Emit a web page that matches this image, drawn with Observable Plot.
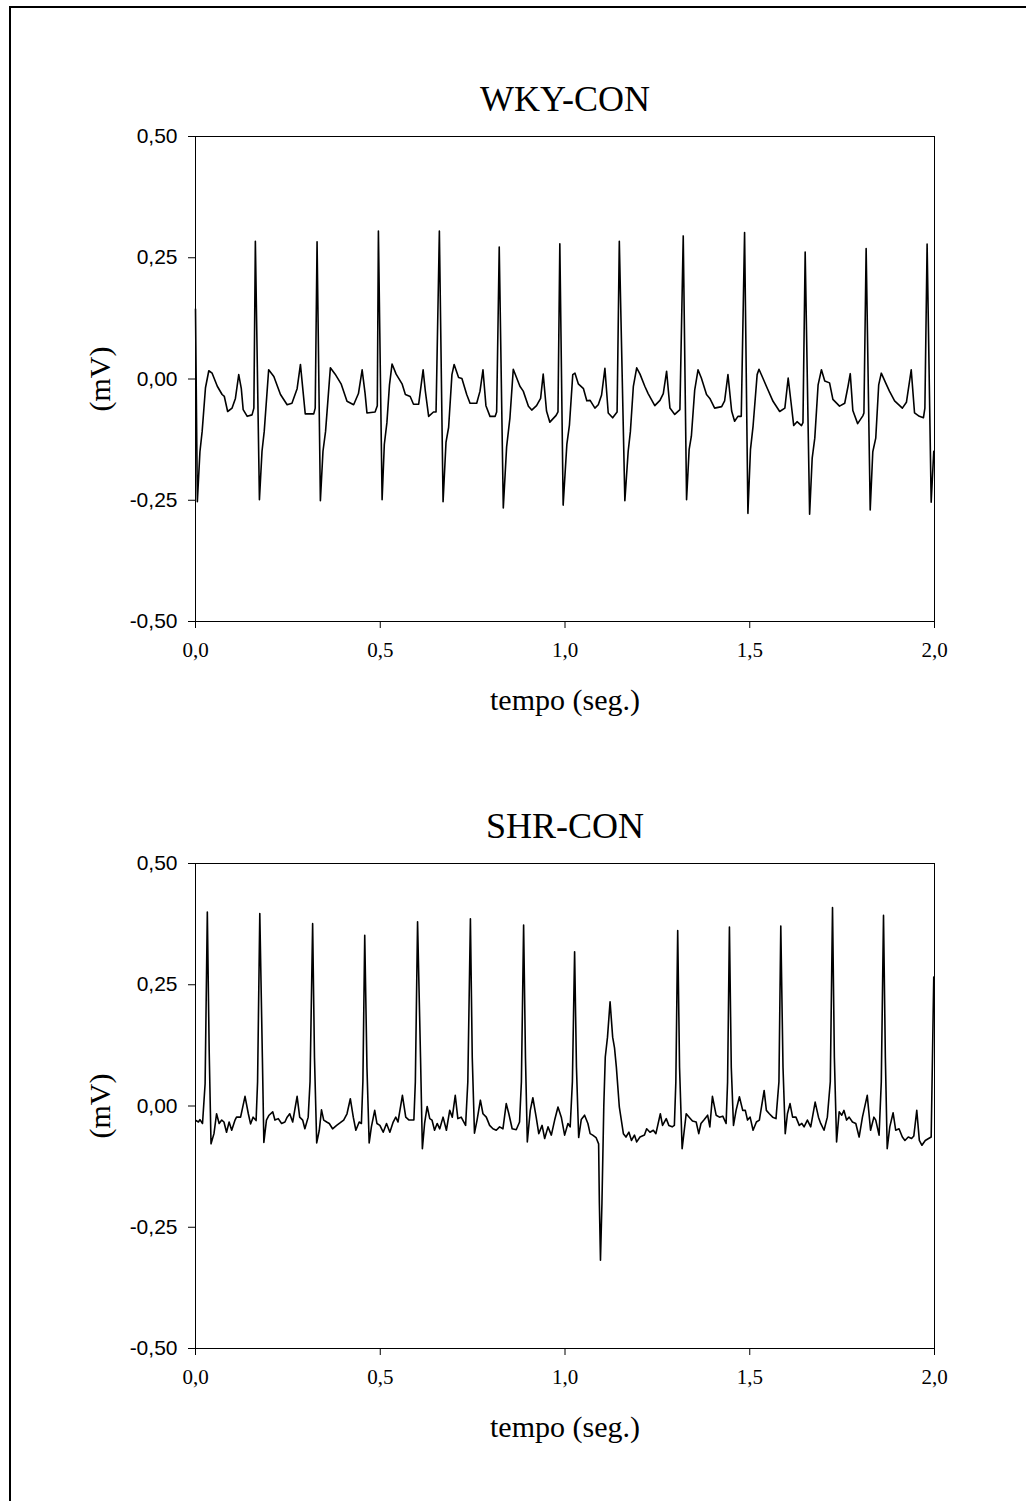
<!DOCTYPE html>
<html><head><meta charset="utf-8">
<script src="https://cdn.jsdelivr.net/npm/d3@7"></script>
<script src="https://cdn.jsdelivr.net/npm/@observablehq/plot@0.6"></script>
<style>
html,body{margin:0;padding:0;background:#fff;}
body{width:1026px;height:1501px;position:relative;overflow:hidden;}
#border{position:absolute;left:9px;top:6px;width:1040px;height:1520px;border:2px solid #000;box-sizing:border-box;}
.panel{position:absolute;left:0;}
</style></head><body>
<div id="border"></div>
<div id="p1" class="panel" style="top:0px"></div>
<div id="p2" class="panel" style="top:727px"></div>
<script>
const yTicks = [-0.5, -0.25, 0, 0.25, 0.5];
const xTicks = [0, 0.5, 1, 1.5, 2];
const titles = ["WKY-CON", "SHR-CON"];
const xLabel = "tempo (seg.)";
const yLabel = "(mV)";

// [tempo (s), mV]
const wkyTrace = [
[0.000,0.144],[0.005,-0.253],[0.012,-0.150],[0.018,-0.108],[0.027,-0.018],[0.036,0.017],[0.045,0.012],[0.059,-0.015],[0.072,-0.032],[0.078,-0.036],[0.087,-0.067],[0.099,-0.060],[0.108,-0.040],[0.117,0.009],[0.124,-0.020],[0.129,-0.063],[0.140,-0.077],[0.153,-0.074],[0.158,-0.060],
[0.162,0.284],[0.173,-0.249],[0.180,-0.149],[0.186,-0.108],[0.198,0.019],[0.212,0.005],[0.230,-0.032],[0.248,-0.053],[0.261,-0.050],[0.275,-0.020],[0.284,0.030],[0.291,-0.025],[0.297,-0.072],[0.320,-0.072],[0.324,-0.060],
[0.329,0.283],[0.338,-0.251],[0.345,-0.149],[0.352,-0.108],[0.365,0.023],[0.378,0.010],[0.394,-0.010],[0.410,-0.046],[0.428,-0.053],[0.441,-0.030],[0.451,0.019],[0.459,-0.030],[0.464,-0.070],[0.486,-0.068],[0.492,-0.055],
[0.495,0.305],[0.505,-0.249],[0.511,-0.135],[0.518,-0.090],[0.525,-0.012],[0.532,0.031],[0.543,0.010],[0.559,-0.010],[0.568,-0.032],[0.581,-0.036],[0.590,-0.052],[0.604,-0.052],[0.616,0.019],[0.622,-0.025],[0.631,-0.077],[0.644,-0.068],[0.651,-0.068],
[0.660,0.305],[0.670,-0.253],[0.678,-0.130],[0.685,-0.100],[0.694,0.009],[0.700,0.030],[0.712,0.003],[0.721,0.001],[0.734,-0.032],[0.743,-0.050],[0.761,-0.050],[0.770,-0.025],[0.778,0.019],[0.786,-0.055],[0.797,-0.077],[0.811,-0.077],[0.815,-0.068],
[0.822,0.272],[0.833,-0.266],[0.842,-0.140],[0.851,-0.080],[0.860,0.020],[0.878,-0.015],[0.887,-0.025],[0.901,-0.056],[0.910,-0.064],[0.923,-0.055],[0.934,-0.040],[0.941,0.010],[0.950,-0.066],[0.959,-0.089],[0.976,-0.075],[0.981,-0.068],
[0.986,0.279],[0.995,-0.260],[1.005,-0.135],[1.012,-0.095],[1.021,0.009],[1.027,0.012],[1.036,-0.010],[1.050,-0.020],[1.059,-0.045],[1.068,-0.044],[1.081,-0.060],[1.090,-0.053],[1.099,-0.033],[1.108,0.022],[1.117,-0.070],[1.129,-0.080],[1.141,-0.068],
[1.147,0.284],[1.162,-0.251],[1.171,-0.149],[1.177,-0.108],[1.185,-0.015],[1.194,0.023],[1.203,0.010],[1.216,-0.015],[1.225,-0.030],[1.243,-0.055],[1.257,-0.044],[1.266,-0.030],[1.275,0.016],[1.284,-0.060],[1.297,-0.073],[1.311,-0.063],
[1.320,0.295],[1.329,-0.249],[1.336,-0.145],[1.342,-0.118],[1.351,-0.023],[1.360,0.019],[1.369,0.002],[1.383,-0.032],[1.392,-0.040],[1.405,-0.060],[1.424,-0.057],[1.432,-0.045],[1.441,0.009],[1.451,-0.066],[1.459,-0.087],[1.468,-0.077],[1.477,-0.077],
[1.486,0.302],[1.495,-0.277],[1.502,-0.145],[1.509,-0.097],[1.520,0.009],[1.525,0.020],[1.536,0.001],[1.545,-0.015],[1.563,-0.046],[1.581,-0.067],[1.595,-0.060],[1.604,0.002],[1.612,-0.050],[1.619,-0.096],[1.628,-0.088],[1.640,-0.096],[1.644,-0.090],
[1.650,0.262],[1.662,-0.279],[1.669,-0.163],[1.676,-0.122],[1.685,-0.012],[1.694,0.019],[1.703,-0.004],[1.716,-0.008],[1.725,-0.042],[1.743,-0.056],[1.757,-0.050],[1.766,-0.015],[1.772,0.011],[1.779,-0.065],[1.792,-0.092],[1.806,-0.076],[1.809,-0.070],
[1.815,0.269],[1.826,-0.270],[1.833,-0.150],[1.841,-0.122],[1.849,-0.012],[1.856,0.012],[1.869,-0.010],[1.878,-0.025],[1.892,-0.045],[1.913,-0.060],[1.924,-0.048],[1.937,0.019],[1.946,-0.070],[1.959,-0.077],[1.970,-0.080],[1.974,-0.060],
[1.980,0.278],[1.991,-0.254],[1.998,-0.149]
];

const shrTrace = [
[0.001,-0.030],[0.008,-0.033],[0.012,-0.028],[0.019,-0.036],[0.026,0.046],[0.032,0.400],[0.037,0.115],[0.042,-0.078],[0.050,-0.057],[0.057,-0.016],[0.064,-0.036],[0.071,-0.029],[0.077,-0.033],[0.084,-0.054],[0.091,-0.033],[0.098,-0.050],[0.107,-0.029],[0.111,-0.023],[0.122,-0.023],[0.134,0.020],[0.143,-0.016],[0.149,-0.037],[0.156,-0.023],[0.164,-0.030],
[0.168,0.050],[0.174,0.397],[0.181,0.100],[0.185,-0.075],[0.192,-0.029],[0.199,-0.019],[0.209,-0.012],[0.215,-0.029],[0.224,-0.026],[0.233,-0.036],[0.242,-0.033],[0.248,-0.023],[0.255,-0.016],[0.263,-0.033],[0.275,0.020],[0.282,-0.023],[0.290,-0.029],[0.296,-0.047],[0.305,-0.023],
[0.310,0.050],[0.317,0.376],[0.322,0.100],[0.328,-0.076],[0.335,-0.050],[0.341,-0.008],[0.347,-0.029],[0.355,-0.033],[0.362,-0.036],[0.371,-0.047],[0.382,-0.040],[0.391,-0.035],[0.401,-0.029],[0.410,-0.016],[0.419,0.015],[0.427,-0.023],[0.434,-0.050],[0.443,-0.033],[0.449,-0.036],
[0.453,0.050],[0.458,0.352],[0.464,0.080],[0.470,-0.076],[0.476,-0.043],[0.485,-0.009],[0.491,-0.036],[0.499,-0.040],[0.508,-0.054],[0.517,-0.036],[0.526,-0.054],[0.535,-0.033],[0.542,-0.023],[0.548,-0.033],[0.560,0.022],[0.569,-0.023],[0.578,-0.029],[0.591,-0.029],
[0.595,0.050],[0.601,0.380],[0.609,0.100],[0.614,-0.088],[0.620,-0.036],[0.627,-0.001],[0.634,-0.026],[0.640,-0.029],[0.647,-0.050],[0.654,-0.036],[0.661,-0.047],[0.670,-0.023],[0.679,-0.050],[0.688,-0.009],[0.695,-0.023],[0.703,0.022],[0.710,-0.026],[0.719,-0.023],[0.731,-0.040],
[0.737,0.050],[0.744,0.386],[0.749,0.100],[0.755,-0.056],[0.762,-0.029],[0.771,0.012],[0.778,-0.016],[0.787,-0.023],[0.796,-0.040],[0.805,-0.047],[0.814,-0.050],[0.823,-0.043],[0.832,-0.047],[0.841,0.005],[0.848,-0.016],[0.857,-0.047],[0.868,-0.049],[0.877,-0.033],
[0.882,0.050],[0.888,0.373],[0.893,0.100],[0.898,-0.074],[0.906,-0.009],[0.913,0.017],[0.922,-0.023],[0.929,-0.057],[0.938,-0.040],[0.945,-0.067],[0.954,-0.043],[0.963,-0.060],[0.972,-0.029],[0.981,-0.002],[0.990,-0.023],[0.999,-0.060],[1.008,-0.036],[1.014,-0.043],
[1.020,0.050],[1.026,0.318],[1.031,0.080],[1.037,-0.065],[1.044,-0.028],[1.053,-0.019],[1.062,-0.036],[1.068,-0.057],[1.075,-0.060],[1.084,-0.065],[1.091,-0.078],[1.093,-0.200],[1.096,-0.318],[1.100,-0.200],[1.105,0.000],[1.109,0.101],[1.115,0.142],[1.122,0.215],[1.129,0.142],[1.134,0.120],[1.139,0.080],[1.147,-0.002],[1.158,-0.057],[1.165,-0.064],[1.173,-0.054],[1.180,-0.071],[1.188,-0.060],[1.194,-0.074],[1.203,-0.064],[1.215,-0.060],[1.221,-0.047],[1.230,-0.054],[1.239,-0.050],[1.246,-0.057],[1.258,-0.016],[1.264,-0.040],[1.274,-0.026],[1.281,-0.040],[1.290,-0.043],[1.296,-0.040],
[1.300,0.050],[1.305,0.362],[1.310,0.080],[1.317,-0.088],[1.328,-0.016],[1.336,-0.023],[1.345,-0.031],[1.355,-0.033],[1.362,-0.057],[1.368,-0.036],[1.377,-0.028],[1.386,-0.019],[1.392,-0.043],[1.399,0.020],[1.409,-0.019],[1.418,-0.023],[1.427,-0.021],[1.436,-0.036],
[1.440,0.050],[1.445,0.369],[1.450,0.080],[1.456,-0.040],[1.463,-0.009],[1.472,0.019],[1.481,-0.009],[1.488,-0.009],[1.494,-0.029],[1.501,-0.023],[1.509,-0.050],[1.518,-0.033],[1.526,-0.029],[1.539,0.032],[1.545,-0.009],[1.553,-0.016],[1.562,-0.023],[1.571,-0.026],
[1.579,0.050],[1.584,0.371],[1.590,0.080],[1.596,-0.057],[1.602,-0.016],[1.609,0.005],[1.616,-0.023],[1.625,-0.023],[1.634,-0.040],[1.641,-0.036],[1.647,-0.043],[1.656,-0.029],[1.665,-0.043],[1.677,0.008],[1.686,-0.023],[1.692,-0.036],[1.701,-0.050],[1.710,-0.023],
[1.718,0.050],[1.724,0.409],[1.729,0.100],[1.735,-0.074],[1.742,-0.012],[1.749,-0.019],[1.755,-0.009],[1.762,-0.029],[1.769,-0.023],[1.778,-0.033],[1.787,-0.036],[1.796,-0.064],[1.805,-0.023],[1.818,0.022],[1.827,-0.050],[1.836,-0.023],[1.841,-0.029],[1.850,-0.060],
[1.856,0.050],[1.862,0.393],[1.867,0.100],[1.872,-0.088],[1.879,-0.043],[1.888,-0.014],[1.895,-0.050],[1.904,-0.047],[1.913,-0.064],[1.920,-0.071],[1.929,-0.064],[1.938,-0.067],[1.944,-0.062],[1.952,-0.009],[1.959,-0.071],[1.966,-0.081],[1.975,-0.071],[1.984,-0.067],[1.991,-0.064],[1.998,0.266]
];

const fmtY = d => d.toFixed(2).replace(".", ",");
const fmtX = d => d.toFixed(1).replace(".", ",");
const SERIF = "'Liberation Serif','Times New Roman',Times,serif";
const SANS = "'Liberation Sans',Arial,Helvetica,sans-serif";

function panel(title, trace) {
  const data = trace.map(([t, v]) => ({t, v}));
  return Plot.plot({
    width: 1026, height: 741,
    marginLeft: 195, marginRight: 92, marginTop: 136, marginBottom: 120,
    x: {domain: [0, 2]},
    y: {domain: [-0.5, 0.5]},
    style: {background: "transparent", overflow: "visible", color: "#000"},
    marks: [
      Plot.frame({stroke: "#000", strokeWidth: 1}),
      Plot.axisY({ticks: yTicks, tickSize: 7, tickPadding: 11, tickFormat: fmtY, fontFamily: SANS, fontSize: 21, label: null, stroke: "#000", fill: "#000"}),
      Plot.axisX({ticks: xTicks, tickSize: 7, tickPadding: 14, tickFormat: fmtX, fontFamily: SERIF, fontSize: 21, label: null, stroke: "#000", fill: "#000"}),
      Plot.line(data, {x: "t", y: "v", stroke: "#000", strokeWidth: 1.6, strokeLinejoin: "round"}),
      Plot.text([title], {frameAnchor: "top", dy: -37, textAnchor: "middle", lineAnchor: "middle", fontFamily: SERIF, fontSize: 36, fill: "#000"}),
      Plot.text([yLabel], {frameAnchor: "left", dx: -95, rotate: -90, textAnchor: "middle", lineAnchor: "middle", fontFamily: SERIF, fontSize: 30, fill: "#000"}),
      Plot.text([xLabel], {frameAnchor: "bottom", dy: 79, textAnchor: "middle", lineAnchor: "middle", fontFamily: SERIF, fontSize: 30, fill: "#000"})
    ]
  });
}

document.getElementById("p1").appendChild(panel(titles[0], wkyTrace));
document.getElementById("p2").appendChild(panel(titles[1], shrTrace));
</script>
</body></html>
